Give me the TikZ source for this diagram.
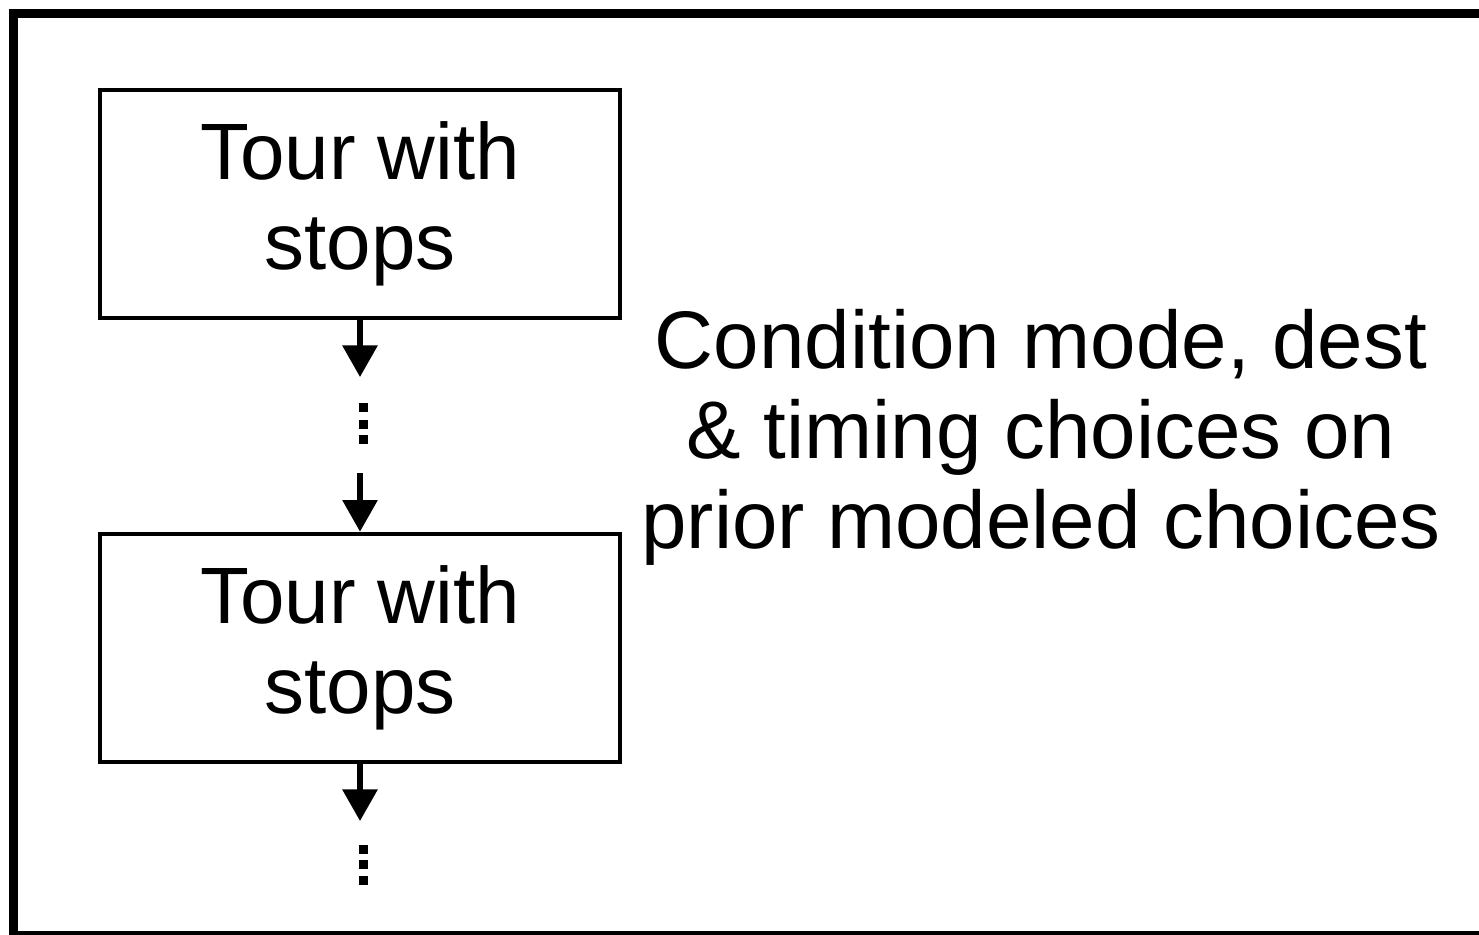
\documentclass[tikz,border=0pt]{standalone}
\usepackage{fontspec}
\setmainfont{Liberation Sans}
\usetikzlibrary{arrows.meta}

\begin{document}
\begin{tikzpicture}[x=0.02cm, y=-0.02cm,
    tourbox/.style={draw, line width=2.7pt, minimum width=10.4cm, minimum height=4.56cm, align=center, inner sep=0pt, font=\fontsize{45.5}{51.2}\selectfont},
    flow/.style={line width=3pt, -{Triangle[length=18pt, width=19.5pt]}},
    dotsq/.style={fill, inner sep=0pt, minimum size=9*0.02cm},
    mytext/.style={align=center, inner sep=0pt, font=\fontsize{46.5}{51.2}\selectfont}]
  \useasboundingbox (0,0) rectangle (1479,934);
  \clip (0,0) rectangle (1479,934);
  % outer frame, runs off the right and bottom edge
  \draw[line width=4.6pt] (13.5,13.5) rectangle (1540,935);
  \node[tourbox] (tour1) at (360,204) {Tour with\\stops};
  \node[tourbox] (tour2) at (360,648) {Tour with\\stops};
  \node[mytext] (cond) at (1041,437) {Condition mode, dest\\\& timing choices on\\prior modeled choices};
  \coordinate (gap1) at (360,377);
  \coordinate (gap2) at (360,473);
  \coordinate (gap3) at (360,821);
  \draw[flow] (tour1.south) -- (gap1);
  \draw[flow] (gap2) -- (tour2.north);
  \draw[flow] (tour2.south) -- (gap3);
  \foreach \y in {407,424,439} \node[dotsq] at (363.5,\y) {};
  \foreach \y in {849,864,880} \node[dotsq] at (363.5,\y) {};
\end{tikzpicture}
\end{document}
